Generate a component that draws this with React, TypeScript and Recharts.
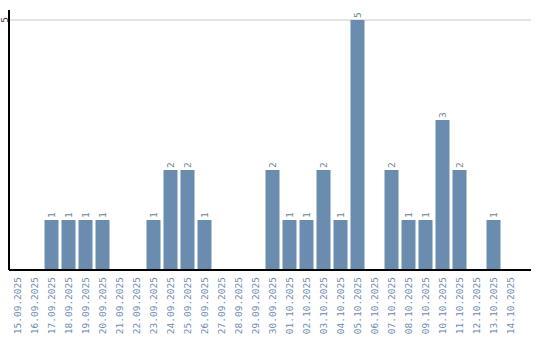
import React from "react";
import { Bar, BarChart, CartesianGrid, LabelList, XAxis, YAxis } from "recharts";

const dates = [
  "15.09.2025", "16.09.2025", "17.09.2025", "18.09.2025", "19.09.2025",
  "20.09.2025", "21.09.2025", "22.09.2025", "23.09.2025", "24.09.2025",
  "25.09.2025", "26.09.2025", "27.09.2025", "28.09.2025", "29.09.2025",
  "30.09.2025", "01.10.2025", "02.10.2025", "03.10.2025", "04.10.2025",
  "05.10.2025", "06.10.2025", "07.10.2025", "08.10.2025", "09.10.2025",
  "10.10.2025", "11.10.2025", "12.10.2025", "13.10.2025", "14.10.2025",
];
const counts = [
  0, 0, 1, 1, 1, 1, 0, 0, 1, 2, 2, 1, 0, 0, 0,
  2, 1, 1, 2, 1, 5, 0, 2, 1, 1, 3, 2, 0, 1, 0,
];
const yTicks = [5];

const data = dates.map((d, i) => ({ date: d, count: counts[i] }));

const FONT = "'DejaVu Sans Mono', monospace";

function XTick({ x, payload }: any) {
  // labels hang under the axis, reading bottom-to-top
  return (
    <text
      transform={`translate(${x},277) rotate(-90)`}
      textAnchor="end"
      dy="0.35em"
      fontSize={9.5}
      fontFamily={FONT}
      fill="#6b8cb0"
    >
      {payload.value}
    </text>
  );
}

function YTick({ y, payload }: any) {
  return (
    <text
      transform={`translate(5,${y}) rotate(-90)`}
      textAnchor="middle"
      dy="0.35em"
      fontSize={9.5}
      fontFamily={FONT}
      fill="#333"
    >
      {payload.value}
    </text>
  );
}

function ValueLabel({ x, y, width, value }: any) {
  if (!value) return null;
  return (
    <text
      transform={`translate(${x + width / 2},${y - 2}) rotate(-90)`}
      textAnchor="start"
      dy="0.35em"
      fontSize={9.5}
      fontFamily={FONT}
      fill="#6f7f90"
    >
      {value}
    </text>
  );
}

export default function App() {
  return (
    <div style={{ position: "absolute", left: 0, top: 0, background: "#fff" }}>
      <BarChart
        width={540}
        height={340}
        data={data}
        margin={{ top: 10, right: 9, left: 0, bottom: 0 }}
        barCategoryGap={1.5}
      >
        <CartesianGrid
          horizontal
          vertical={false}
          horizontalValues={yTicks}
          stroke="#c8c8c8"
        />
        <XAxis
          dataKey="date"
          interval={0}
          height={70}
          tick={<XTick />}
          tickLine={false}
          axisLine={{ stroke: "#000", strokeWidth: 2 }}
          padding={{ left: 0, right: 12 }}
        />
        <YAxis
          width={9}
          domain={[0, 5.2]}
          ticks={yTicks}
          tick={<YTick />}
          tickLine={false}
          axisLine={{ stroke: "#000", strokeWidth: 2 }}
        />
        <Bar dataKey="count" fill="#6a8caf" isAnimationActive={false}>
          <LabelList dataKey="count" content={<ValueLabel />} />
        </Bar>
      </BarChart>
    </div>
  );
}
